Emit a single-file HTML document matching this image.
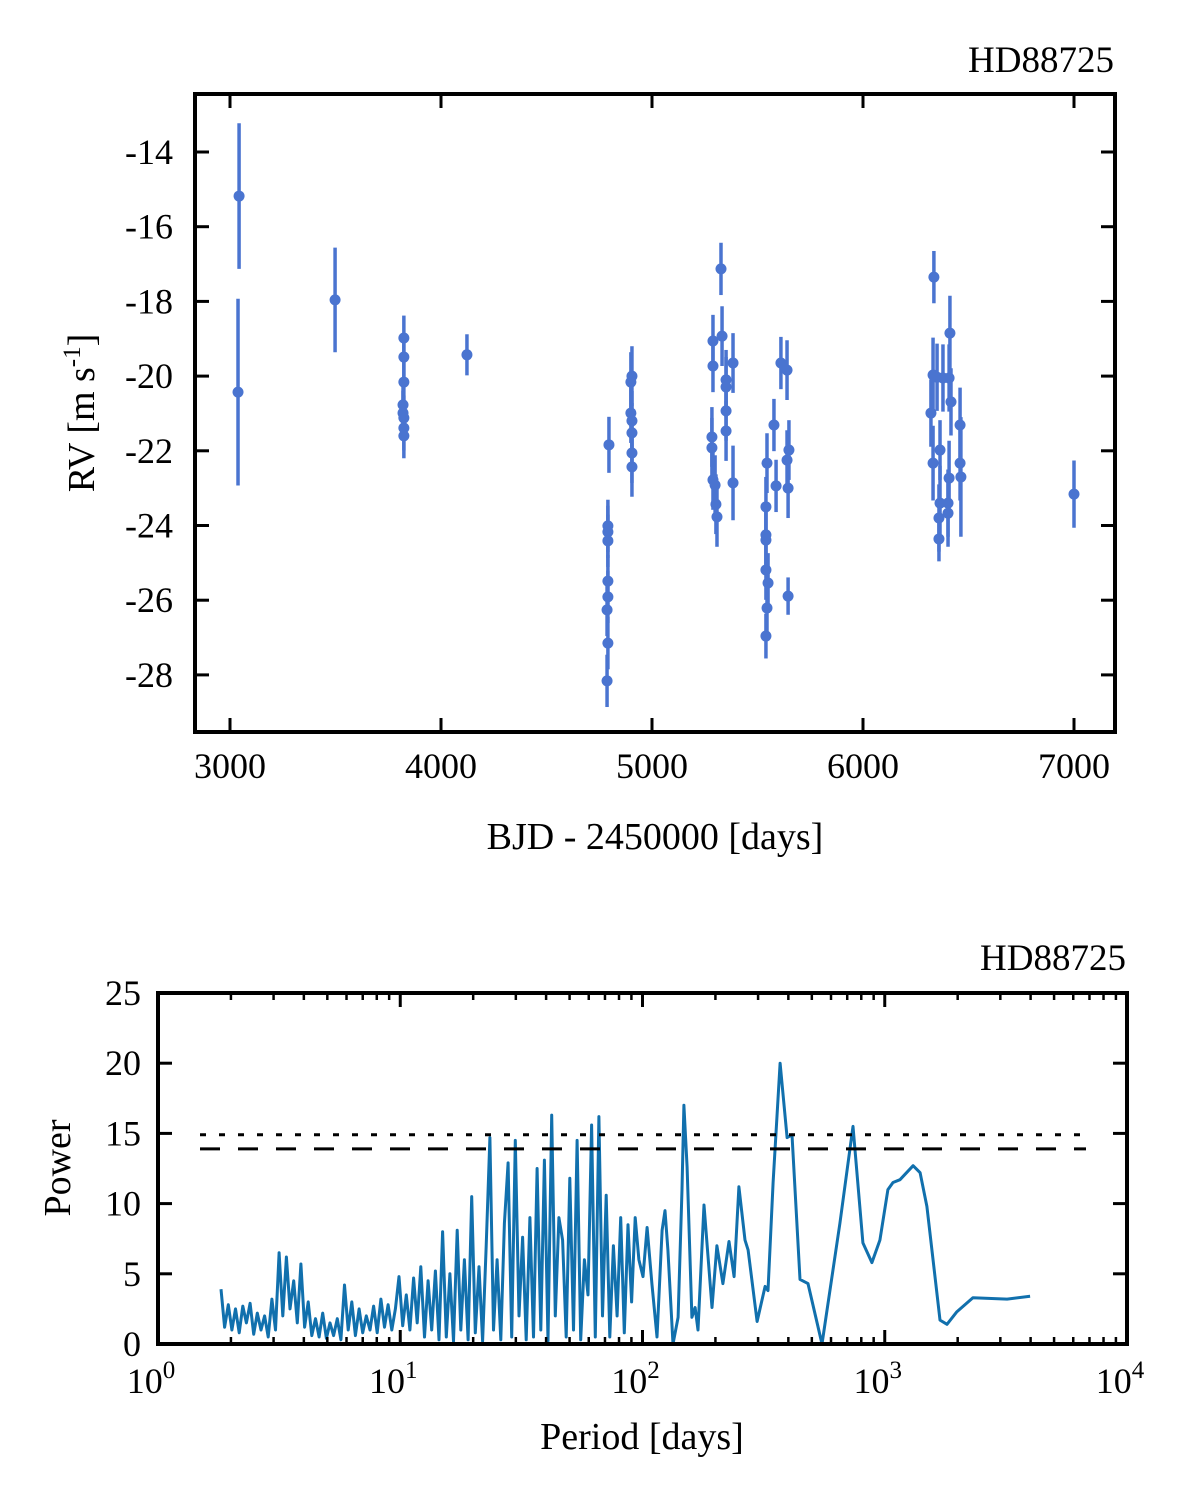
<!DOCTYPE html>
<html><head><meta charset="utf-8">
<style>
html,body{margin:0;padding:0;background:#fff;}
svg{display:block;font-family:"Liberation Serif",serif;}
</style></head>
<body>
<svg id="fig" width="1200" height="1502" viewBox="0 0 1200 1502" xmlns="http://www.w3.org/2000/svg">
<g id="topPanel"></g>
<g id="botPanel"></g>
</svg>
<script>
// ---- RV data ----
const bjd = [3043,3038,3498,3824,3824,3824,3820,3820,3824,3824,3824,4123,
4796,4791,4791,4791,4791,4791,4787,4791,4787,
4905,4900,4900,4905,4905,4905,4905,
5289,5289,5284,5284,5289,5299,5303,5308,5327,5332,5351,5351,5351,5351,5384,5384,
5545,5540,5540,5540,5540,5550,5545,5540,5578,5588,5611,5640,5640,5649,5645,5645,
6336,6412,6332,6322,6332,6365,6379,6408,6417,6460,6460,6464,6408,6365,6403,6403,6360,6360,6351,7000];
const rv = [-15.18,-20.43,-17.96,-18.98,-19.49,-20.16,-20.77,-20.99,-21.12,-21.39,-21.6,-19.43,
-21.84,-24.01,-24.17,-24.41,-25.49,-25.91,-26.26,-27.15,-28.16,
-20.0,-20.16,-20.99,-21.2,-21.52,-22.06,-22.43,
-19.06,-19.73,-21.63,-21.92,-22.78,-22.92,-23.43,-23.77,-17.13,-18.93,-20.1,-20.29,-20.93,-21.47,-19.65,-22.86,
-22.33,-23.5,-24.25,-24.39,-25.19,-25.54,-26.21,-26.96,-21.31,-22.94,-19.65,-19.84,-22.25,-21.98,-23.0,-25.89,
-17.35,-18.85,-19.97,-20.99,-22.33,-21.98,-20.05,-20.05,-20.69,-21.31,-22.33,-22.7,-22.73,-23.4,-23.4,-23.67,-23.8,-24.36,-20.03,-23.16];
const rvErr = [1.95,2.5,1.4,0.6,0.6,0.6,0.6,0.6,0.6,0.6,0.6,0.55,
0.75,0.7,0.7,0.7,0.7,0.7,0.7,0.7,0.7,
0.8,0.8,0.8,0.8,0.8,0.8,0.8,
0.7,0.7,0.8,0.8,0.8,0.8,0.8,0.8,0.7,0.8,0.8,0.8,0.8,0.8,0.8,1.0,
0.8,0.8,0.8,0.8,0.8,0.8,0.8,0.6,0.7,0.7,0.7,0.8,0.8,0.8,0.8,0.5,
0.7,1.0,1.0,0.9,1.0,0.8,0.9,0.9,0.9,1.0,1.0,1.6,1.0,1.0,0.9,0.9,0.9,0.6,0.9,0.9];
const rvXTicks = [3000,4000,5000,6000,7000];
const rvYTicks = [-14,-16,-18,-20,-22,-24,-26,-28];

// ---- periodogram data ----
const log10Period = [0.26,0.275,0.29,0.305,0.32,0.335,0.35,0.365,0.38,0.395,0.41,0.425,0.44,0.455,
0.47,0.485,0.5,0.515,0.53,0.545,0.56,0.575,0.59,0.605,0.62,
0.635,0.65,0.665,0.68,0.695,0.71,0.725,0.74,0.755,0.77,
0.785,0.8,0.815,0.83,0.845,0.86,0.875,0.89,0.905,0.92,0.935,0.95,0.965,0.98,
0.995,1.01,1.025,1.04,1.055,1.07,1.085,1.1,1.115,1.13,1.145,1.16,
1.175,1.19,1.205,1.22,1.235,1.25,1.265,1.28,1.295,1.31,1.325,1.34,1.355,1.37,1.385,1.4,1.415,1.43,1.445,1.46,1.475,1.49,
1.505,1.52,1.535,1.55,1.565,1.58,1.595,1.61,1.625,1.64,1.655,1.67,1.685,1.7,1.715,1.73,1.745,1.76,1.775,1.79,1.805,1.82,1.835,1.85,1.865,1.88,1.895,1.91,1.925,1.94,1.955,1.97,1.985,
2.002,2.019,2.039,2.06,2.081,2.093,2.105,2.126,2.147,2.163,2.171,2.184,2.204,2.217,2.229,2.254,2.287,2.307,2.332,2.357,2.378,2.398,2.423,2.436,2.473,2.506,2.518,2.539,2.568,2.597,2.617,2.65,2.683,2.741,2.815,2.869,2.91,2.947,2.98,3.013,3.034,3.063,3.117,3.146,3.174,3.228,3.257,3.298,3.364,3.505,3.6];
const power = [3.9,1.2,2.8,1.0,2.5,0.8,2.7,1.5,2.9,0.7,2.2,1.0,2.0,0.5,
3.2,1.0,6.5,2.0,6.2,2.5,4.5,1.5,5.7,1.2,3.0,
0.6,1.8,0.5,2.2,0.4,1.5,0.6,1.8,0.3,4.2,
1.0,3.0,0.6,2.5,0.8,2.0,1.0,2.7,0.8,3.2,1.2,2.8,1.0,2.5,
4.8,1.3,3.5,1.0,4.7,1.5,5.5,0.5,4.5,1.0,5.2,0.3,
8.0,0.5,5.0,0.2,8.1,1.0,6.0,0.3,10.5,0.8,5.5,0.2,7.0,14.7,1.0,6.0,0.3,8.6,12.9,0.5,14.5,2.0,
7.6,0.3,9.0,0.5,12.5,1.0,13.1,0.2,16.3,2.0,9.0,7.4,0.5,11.8,1.0,14.5,0.3,6.0,3.5,15.6,0.5,16.2,2.0,10.6,0.5,7.0,2.0,9.0,0.8,8.5,3.0,9.0,6.0,
4.8,8.3,4.3,0.5,8.1,9.5,6.7,0.0,1.9,11,17,12.6,1.9,2.6,1.0,9.9,2.6,7.0,4.3,7.3,4.8,11.2,7.4,6.7,1.6,4.1,3.8,11.5,20,14.7,14.9,4.6,4.3,0.0,8.6,15.5,7.2,5.8,7.4,11,11.5,11.7,12.7,12.2,9.8,1.7,1.4,2.3,3.3,3.2,3.4];
const fapLevels = [14.9, 13.9];
const powYTicks = [0,5,10,15,20,25];
const periodDecades = [0,1,2,3,4];

const NS='http://www.w3.org/2000/svg';
function mk(tag, parent, attrs){const e=document.createElementNS(NS,tag);for(const k in attrs)e.setAttribute(k,attrs[k]);parent.appendChild(e);return e;}
const FS=36;

// ---------- top panel ----------
const topG=document.getElementById('topPanel');
const T={l:195,r:1115,t:94,b:732};
const xr=v=>230+(v-3000)*0.211;
const yr=v=>152+(-14-v)*37.35;
const pts=mk('g',topG,{});


for(let i=0;i<bjd.length;i++){
  const x=xr(bjd[i]),y=yr(rv[i]),e=rvErr[i]*37.35;
  const l=mk('line',pts,{x1:x,x2:x,y1:y-e,y2:y+e,stroke:'#4a74d0','stroke-width':3.5});
  
  
  const c=mk('circle',pts,{cx:x,cy:y,r:5.5,fill:'#4a74d0'});
  
  
}
const tf=mk('rect',topG,{x:T.l,y:T.t,width:T.r-T.l,height:T.b-T.t,fill:'none',stroke:'#000','stroke-width':4});


rvXTicks.forEach(v=>{const x=xr(v);
  mk('line',topG,{x1:x,x2:x,y1:T.b,y2:T.b-14,stroke:'#000','stroke-width':3});
  mk('line',topG,{x1:x,x2:x,y1:T.t,y2:T.t+14,stroke:'#000','stroke-width':3});
  const t=mk('text',topG,{x:x,y:778,'font-size':FS,'text-anchor':'middle'});t.textContent=v;
  
  
});
rvYTicks.forEach(v=>{const y=yr(v);
  mk('line',topG,{x1:T.l,x2:T.l+14,y1:y,y2:y,stroke:'#000','stroke-width':3});
  mk('line',topG,{x1:T.r,x2:T.r-14,y1:y,y2:y,stroke:'#000','stroke-width':3});
  const t=mk('text',topG,{x:173,y:y+12,'font-size':FS,'text-anchor':'end'});t.textContent=v;
  
  
});
let t1=mk('text',topG,{x:1114,y:72,'font-size':37,'text-anchor':'end'});t1.textContent='HD88725';


let t2=mk('text',topG,{x:655,y:849,'font-size':38,'text-anchor':'middle'});t2.textContent='BJD - 2450000 [days]';


let t3=mk('text',topG,{x:0,y:0,'font-size':38,'text-anchor':'middle',transform:'translate(94,413) rotate(-90)'});
t3.innerHTML='RV [m s<tspan dy="-14" font-size="25">-1</tspan><tspan dy="14">]</tspan>';



// ---------- bottom panel ----------
const botG=document.getElementById('botPanel');
const B={l:158,r:1127,t:993,b:1344};
const xp=lg=>B.l+lg*242.25;
const yp=v=>B.b-v*14.04;
let d='';
for(let i=0;i<log10Period.length;i++){d+=(i?'L':'M')+xp(log10Period[i]).toFixed(1)+' '+yp(power[i]).toFixed(1);}
const ln=mk('path',botG,{d:d,fill:'none',stroke:'#1170ad','stroke-width':3,'stroke-linejoin':'round'});


fapLevels.forEach((v,i)=>{
  const l=mk('line',botG,{x1:200,x2:1086,y1:yp(v),y2:yp(v),stroke:'#000','stroke-width':3,'stroke-dasharray':i==0?'6 13':'20 18'});
  
  
});
const bf=mk('rect',botG,{x:B.l,y:B.t,width:B.r-B.l,height:B.b-B.t,fill:'none',stroke:'#000','stroke-width':4});


periodDecades.forEach(k=>{const x=xp(k);
  mk('line',botG,{x1:x,x2:x,y1:B.b,y2:B.b-14,stroke:'#000','stroke-width':3});
  mk('line',botG,{x1:x,x2:x,y1:B.t,y2:B.t+14,stroke:'#000','stroke-width':3});
  if(k<4){for(let m=2;m<10;m++){const xm=xp(k+Math.log10(m));
    mk('line',botG,{x1:xm,x2:xm,y1:B.b,y2:B.b-7,stroke:'#000','stroke-width':2.5});
    mk('line',botG,{x1:xm,x2:xm,y1:B.t,y2:B.t+7,stroke:'#000','stroke-width':2.5});}}
  const t=mk('text',botG,{x:x-7,y:1393,'font-size':FS,'text-anchor':'middle'});
  t.innerHTML='10<tspan dy="-15" font-size="25">'+k+'</tspan>';
  
  
});
powYTicks.forEach(v=>{const y=yp(v);
  mk('line',botG,{x1:B.l,x2:B.l+14,y1:y,y2:y,stroke:'#000','stroke-width':3});
  mk('line',botG,{x1:B.r,x2:B.r-14,y1:y,y2:y,stroke:'#000','stroke-width':3});
  const t=mk('text',botG,{x:141,y:y+12,'font-size':FS,'text-anchor':'end'});t.textContent=v;
  
  
});
let b1=mk('text',botG,{x:1126,y:970,'font-size':37,'text-anchor':'end'});b1.textContent='HD88725';


let b2=mk('text',botG,{x:642,y:1449,'font-size':38,'text-anchor':'middle'});b2.textContent='Period [days]';


let b3=mk('text',botG,{x:0,y:0,'font-size':38,'text-anchor':'middle',transform:'translate(70,1168) rotate(-90)'});b3.textContent='Power';


</script>
</body></html>
